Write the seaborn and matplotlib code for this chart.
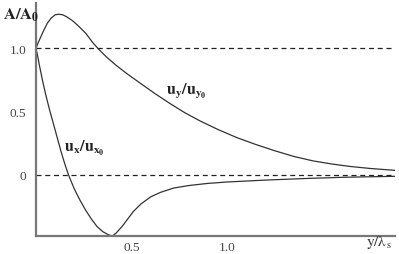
import matplotlib
matplotlib.use("Agg")
import matplotlib.pyplot as plt
import seaborn as sns
import pandas as pd

# data
uy_x = [0, 0.01, 0.025, 0.04, 0.06, 0.08, 0.1, 0.12, 0.14, 0.16, 0.19, 0.22, 0.26,
        0.3, 0.33, 0.37, 0.42, 0.48, 0.55, 0.62, 0.7, 0.78, 0.86, 0.95, 1.05, 1.15,
        1.25, 1.35, 1.45, 1.55, 1.65, 1.75, 1.88]
uy_v = [1.0, 1.04, 1.09, 1.14, 1.2, 1.24, 1.265, 1.27, 1.265, 1.25, 1.22, 1.18, 1.12,
        1.04, 0.99, 0.93, 0.865, 0.795, 0.72, 0.645, 0.565, 0.49, 0.425, 0.36, 0.295, 0.24,
        0.19, 0.145, 0.11, 0.085, 0.065, 0.05, 0.035]

ux_x = [0, 0.01, 0.02, 0.035, 0.05, 0.07, 0.09, 0.11, 0.13, 0.15, 0.17, 0.2, 0.23,
        0.26, 0.29, 0.32, 0.35, 0.38, 0.40, 0.42, 0.45, 0.48, 0.51, 0.55, 0.6, 0.65,
        0.72, 0.8, 0.9, 1.0, 1.2, 1.4, 1.6, 1.88]
ux_v = [1.0, 0.93, 0.85, 0.74, 0.64, 0.52, 0.41, 0.3, 0.19, 0.09, 0.0, -0.11, -0.2,
        -0.28, -0.35, -0.41, -0.45, -0.475, -0.484, -0.46, -0.41, -0.35, -0.29, -0.23, -0.175, -0.14,
        -0.105, -0.085, -0.068, -0.057, -0.042, -0.03, -0.02, -0.012]

x_ticks = [0.5, 1.0, 1.5]
x_tick_labels = ["0.5", "1.0", ""]
y_ticks = [0, 0.5, 1.0]
y_tick_labels = ["0", "0.5", "1.0"]
ref_levels = [0, 1.0]

sns.set_style("white")
plt.rcParams['font.family'] = ['Liberation Serif', 'DejaVu Serif']
plt.rcParams['mathtext.fontset'] = 'stix'

fig = plt.figure(figsize=(3.99, 2.55), dpi=100)
ax = fig.add_axes([0.0902, 0.0706, 0.9, 0.913])

df_y = pd.DataFrame({"x": uy_x, "v": uy_v})
df_x = pd.DataFrame({"x": ux_x, "v": ux_v})
sns.lineplot(data=df_y, x="x", y="v", ax=ax, color="#333333", lw=0.9, sort=False)
sns.lineplot(data=df_x, x="x", y="v", ax=ax, color="#333333", lw=0.9, sort=False)

for lv in ref_levels:
    ax.axhline(lv, color="#222222", lw=0.9, dashes=(4, 3))

ax.set_xlim(0, 1.88)
ax.set_ylim(-0.484, 1.357)

for s in ["top", "right"]:
    ax.spines[s].set_visible(False)
for s in ["left", "bottom"]:
    ax.spines[s].set_color("#777777")
    ax.spines[s].set_linewidth(1.6)

ax.set_xticks(x_ticks)
ax.set_xticklabels(x_tick_labels)
ax.set_yticks(y_ticks)
ax.set_yticklabels(y_tick_labels)
ax.tick_params(axis="both", direction="inout", length=4, width=0.8, color="#777777",
               labelsize=9.5, labelcolor="#444444")
ax.tick_params(axis="y", pad=5)
ax.tick_params(axis="x", pad=1.5)
ax.set_xlabel("")
ax.set_ylabel("")

fig.text(0.008, 0.925, r"$\mathbf{A/A_0}$", fontsize=12, color="#222222")
fig.text(0.918, 0.035, r"$\mathrm{y/\lambda_{\,s}}$", fontsize=11, color="#333333")
ax.text(0.68, 0.64, r"$\mathbf{u_y/u_{y_0}}$", fontsize=11.5, color="#222222")
ax.text(0.145, 0.19, r"$\mathbf{u_x/u_{x_0}}$", fontsize=11.5, color="#222222")

fig.savefig("out.png", dpi=100)
